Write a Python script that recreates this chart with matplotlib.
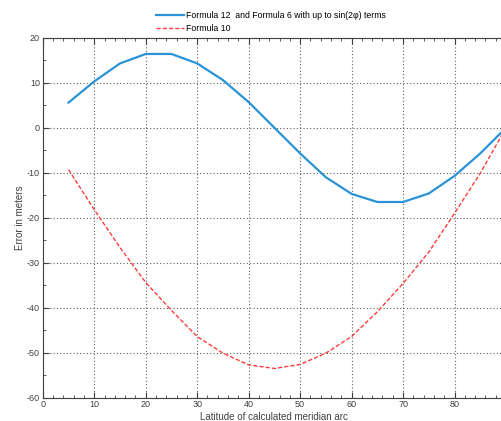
import numpy as np
import matplotlib
matplotlib.use('Agg')
import matplotlib.pyplot as plt
from matplotlib.ticker import MultipleLocator

plt.rcParams['font.family'] = ['Liberation Sans', 'DejaVu Sans']
plt.rcParams['axes.unicode_minus'] = False

# latitude of calculated meridian arc (degrees)
lat = [5, 10, 15, 20, 25, 30, 35, 40, 45, 50, 55, 60, 65, 70, 75, 80, 85, 90]
# Formula 12 and Formula 6 with up to sin(2phi) terms
err_f12 = [5.6, 10.3, 14.3, 16.4, 16.4, 14.3, 10.6, 5.7, 0.0, -5.7, -11.0, -14.7,
           -16.5, -16.5, -14.6, -10.7, -5.7, 0.0]
# Formula 10
err_f10 = [-9.3, -18.2, -26.6, -34.4, -40.6, -46.4, -50.1, -52.7, -53.5, -52.6,
           -50.1, -46.4, -40.9, -34.6, -27.6, -19.0, -10.1, 0.0]

fig = plt.figure(figsize=(5.01, 4.21), dpi=100)
ax = fig.add_axes([0.0854, 0.0553, 0.9246, 0.855])

ax.plot(lat, err_f12, color='#2a93d5', linewidth=1.6,
        label='Formula 12  and Formula 6 with up to sin(2\u03c6) terms')
ax.plot(lat, err_f10, color='#ff3b3b', linewidth=1.0, linestyle=(0, (3, 1.5)),
        label='Formula 10')

ax.set_xlim(0, 90)
ax.set_ylim(-60, 20)
ax.xaxis.set_major_locator(MultipleLocator(10))
ax.xaxis.set_minor_locator(MultipleLocator(2))
ax.yaxis.set_major_locator(MultipleLocator(10))
ax.yaxis.set_minor_locator(MultipleLocator(5))
ax.tick_params(which='both', direction='in', top=True, right=True,
               labelsize=6.5, colors='#404040', pad=2)
ax.tick_params(which='major', length=4)
ax.tick_params(which='minor', length=2)
for s in ax.spines.values():
    s.set_color('#404040')
ax.grid(True, which='major', color='#606060', linestyle=(0, (1, 2)), linewidth=0.8)

ax.set_xlabel('Latitude of calculated meridian arc', fontsize=7, color='#404040', labelpad=2)
ax.set_ylabel('Error in meters', fontsize=7, color='#404040', labelpad=1)

fig.legend(loc='center', bbox_to_anchor=(0.541, 0.948), fontsize=6.3, frameon=False,
           handlelength=3.1, handletextpad=0.25, labelspacing=0.5)

fig.savefig('out.png', dpi=100)
